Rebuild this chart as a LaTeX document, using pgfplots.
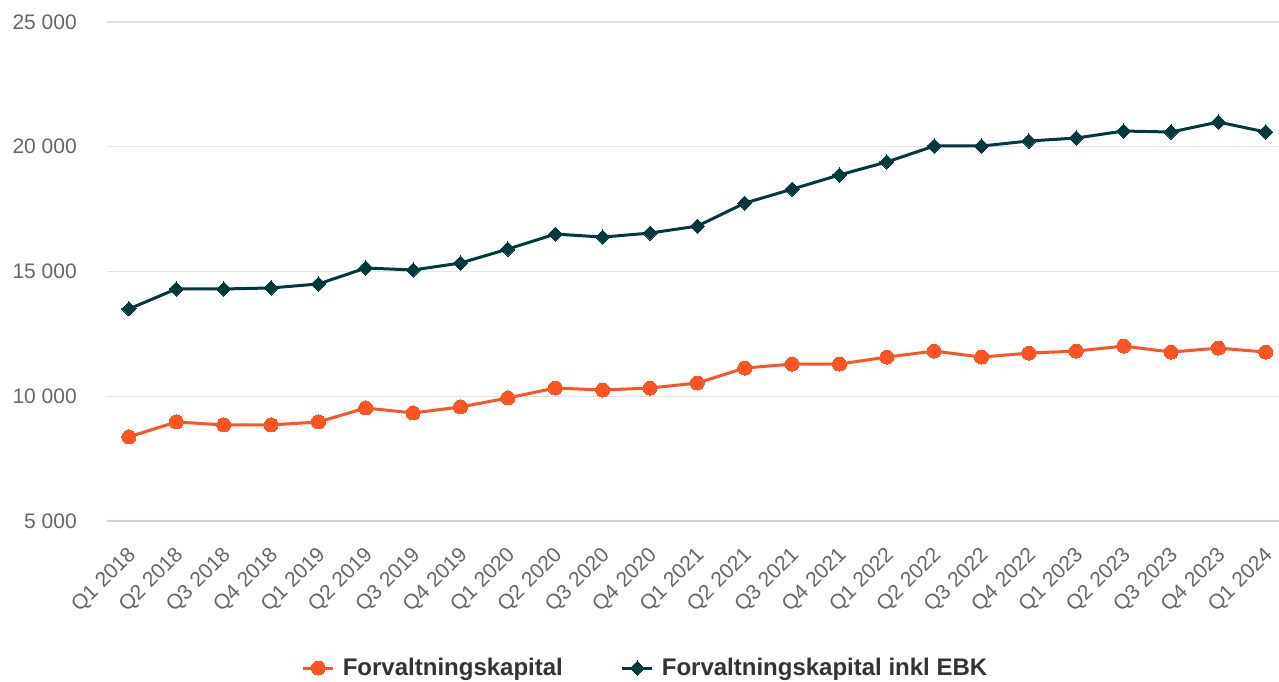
\documentclass[border=0pt]{standalone}
\usepackage{fontspec}
\setmainfont{Liberation Sans}
\usepackage{pgfplots}
\pgfplotsset{compat=1.18}
\definecolor{cOr}{HTML}{FF5322}
\definecolor{cDk}{HTML}{003A3C}
\definecolor{cGrid}{HTML}{E3E3E3}
\definecolor{cBase}{HTML}{CCD6EB}
\definecolor{cTick}{HTML}{666666}
\definecolor{cLeg}{HTML}{333333}
\begin{document}
\begin{tikzpicture}
\begin{axis}[
  at={(0,0)}, anchor=south west,
  scale only axis, width=1172bp, height=499bp,
  xmin=-0.464, xmax=24.28, ymin=5000, ymax=25000,
  scaled y ticks=false,
  axis x line*=bottom, axis y line*=left,
  x axis line style={draw=cBase, line width=1.2bp, -},
  y axis line style={draw=none, -},
  major tick length=0pt,
  ytick={5000,10000,15000,20000,25000},
  yticklabels={5 000,10 000,15 000,20 000,25 000},
  ymajorgrids, grid style={draw=cGrid, line width=1.2bp},
  xtick={0,...,24},
  xticklabels={Q1 2018,Q2 2018,Q3 2018,Q4 2018,Q1 2019,Q2 2019,Q3 2019,Q4 2019,Q1 2020,Q2 2020,Q3 2020,Q4 2020,Q1 2021,Q2 2021,Q3 2021,Q4 2021,Q1 2022,Q2 2022,Q3 2022,Q4 2022,Q1 2023,Q2 2023,Q3 2023,Q4 2023,Q1 2024},
  yticklabel style={font=\fontsize{21bp}{25bp}\selectfont, text=cTick, inner sep=0pt, anchor=east, xshift=-30bp},
  xticklabel style={font=\fontsize{21bp}{25bp}\selectfont, text=cTick, inner sep=0pt, xshift=4bp, yshift=-31bp, rotate=45, anchor=east},
  legend style={draw=none, fill=none, font=\fontsize{24bp}{28bp}\selectfont\bfseries, text=cLeg,
    at={(0.4595,-0.2946)}, anchor=center, legend columns=2,
    /tikz/every odd column/.append style={column sep=6bp},
    /tikz/every even column/.append style={column sep=56bp}},
  legend cell align=left,
  legend image code/.code={\draw[mark repeat=2,mark phase=2,#1] plot coordinates {(0bp,0bp)(15bp,0bp)(30bp,0bp)};},
]
\addplot[color=cOr, line width=3bp, mark=*, mark size=7bp, mark options={solid, fill=cOr, draw=cOr, line width=0pt}] coordinates {
(0,8370)(1,8970)(2,8850)(3,8850)(4,8970)(5,9530)(6,9330)(7,9570)(8,9930)(9,10330)(10,10250)(11,10330)(12,10530)(13,11130)(14,11290)(15,11290)(16,11570)(17,11810)(18,11570)(19,11730)(20,11810)(21,12010)(22,11770)(23,11930)(24,11770)};
\addlegendentry{Forvaltningskapital}
\addplot[color=cDk, line width=3bp, mark=square*, mark size=5bp, mark options={solid, rotate=45, fill=cDk, draw=cDk, line width=0pt}] coordinates {
(0,13500)(1,14300)(2,14300)(3,14340)(4,14500)(5,15140)(6,15060)(7,15340)(8,15900)(9,16500)(10,16380)(11,16540)(12,16820)(13,17740)(14,18300)(15,18870)(16,19390)(17,20030)(18,20030)(19,20230)(20,20350)(21,20630)(22,20590)(23,20990)(24,20590)};
\addlegendentry{Forvaltningskapital inkl EBK}
\end{axis}
\pgfresetboundingbox
\path[use as bounding box] (-107bp,-161bp) rectangle (1172bp,521bp);
\end{tikzpicture}
\end{document}
